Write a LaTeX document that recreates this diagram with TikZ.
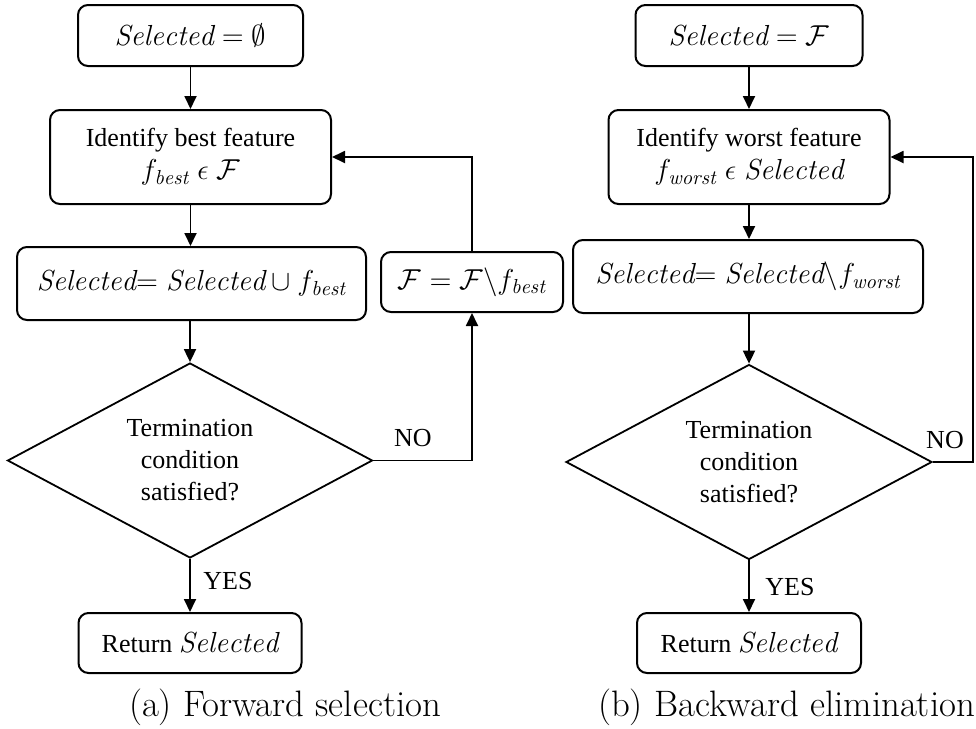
\documentclass[tikz,border=0pt]{standalone}
\usepackage{fontspec}
\newfontfamily\boxfont{Liberation Serif}
\usetikzlibrary{arrows.meta,shapes.geometric}
\newcommand{\sel}{\mathit{Selected}}
% formulas are set a little larger than the surrounding words
\newcommand{\mth}[1]{{\fontsize{14.5}{17.5}\selectfont$#1$}}

\begin{document}
\begin{tikzpicture}[x=0.5pt,y=-0.5pt,
  every node/.style={font=\boxfont\fontsize{13}{17.5}\selectfont},
  box/.style={draw, line width=1pt, rounded corners=5pt, align=center, inner sep=0pt},
  dec/.style={draw, diamond, line width=0.9pt, align=center, inner sep=0pt, aspect=1.87,
              minimum width=182.5pt, minimum height=97.5pt,
              font=\boxfont\fontsize{13}{16}\selectfont},
  link/.style={line width=0.9pt, -{Triangle[length=6.5pt,width=6pt]}},
  lab/.style={font=\boxfont\fontsize{13}{15}\selectfont, inner sep=0pt},
  captext/.style={font=\normalfont\fontsize{18.4}{22}\selectfont, inner sep=0pt}
]
\useasboundingbox (0,0) rectangle (976,729);

% ---------- (a) forward selection ----------
\node[box, minimum width=112.5pt, minimum height=30.5pt] (s1) at (190.5,35.5) {\mth{\sel=\emptyset}};
\node[box, minimum width=140.5pt, minimum height=47pt] (s2) at (190.5,157)
  {Identify best feature\\[-1pt]\mth{f_{\mathit{best}}\;\epsilon\;\mathcal{F}}};
\node[box, minimum width=174.5pt, minimum height=36.5pt] (s3) at (191.5,283.5)
  {\mth{\sel{=}\;\sel\cup f_{\mathit{best}}}};
\node[box, minimum width=91pt, minimum height=30pt] (fF) at (472,282)
  {\mth{\mathcal{F}=\mathcal{F}\backslash f_{\mathit{best}}}};
\node[dec] (d) at (190,460.5) {Termination\\condition\\satisfied?};
\node[box, minimum width=111.5pt, minimum height=30pt] (ret) at (190,643) {Return \mth{\sel}};
\node[captext] (capa) at (285,707) {(a) Forward selection};

\draw[link] (s1) -- (s2);
\draw[link] (s2) -- (s2 |- s3.north);
\draw[link] (s3.south -| d.north) -- (d.north);
\draw[link] (d.south) -- (ret.north);
\draw[link] (d.east) -| (fF.south);
\draw[link] (fF.north) |- (s2.east);
\node[lab] (yesa) at (228,581) {YES};
\node[lab] (noa) at (413,438) {NO};

% ---------- (b) backward elimination ----------
\node[box, minimum width=113.5pt, minimum height=30.5pt] (r1) at (749,35.5) {\mth{\sel=\mathcal{F}}};
\node[box, minimum width=140.5pt, minimum height=47pt] (r2) at (749,157)
  {Identify worst feature\\[-1pt]\mth{f_{\mathit{worst}}\;\epsilon\;\sel}};
\node[box, minimum width=175pt, minimum height=36.5pt] (r3) at (748,276.5)
  {\mth{\sel{=}\;\sel\backslash f_{\mathit{worst}}}};
\node[dec, minimum width=183pt] (rd) at (749,462) {Termination\\condition\\satisfied?};
\node[box, minimum width=112pt, minimum height=30pt] (rret) at (749,643) {Return \mth{\sel}};
\node[captext] (capb) at (786.5,707) {(b) Backward elimination};
\coordinate (rc) at (973,462);

\draw[link] (r1) -- (r2);
\draw[link] (r2) -- (r2 |- r3.north);
\draw[link] (r3.south -| rd.north) -- (rd.north);
\draw[link] (rd.south) -- (rret.north);
\draw[link] (rd.east) -- (rc) |- (r2.east);
\node[lab] (yesb) at (790,587) {YES};
\node[lab] (nob) at (945,440) {NO};
\end{tikzpicture}
\end{document}
